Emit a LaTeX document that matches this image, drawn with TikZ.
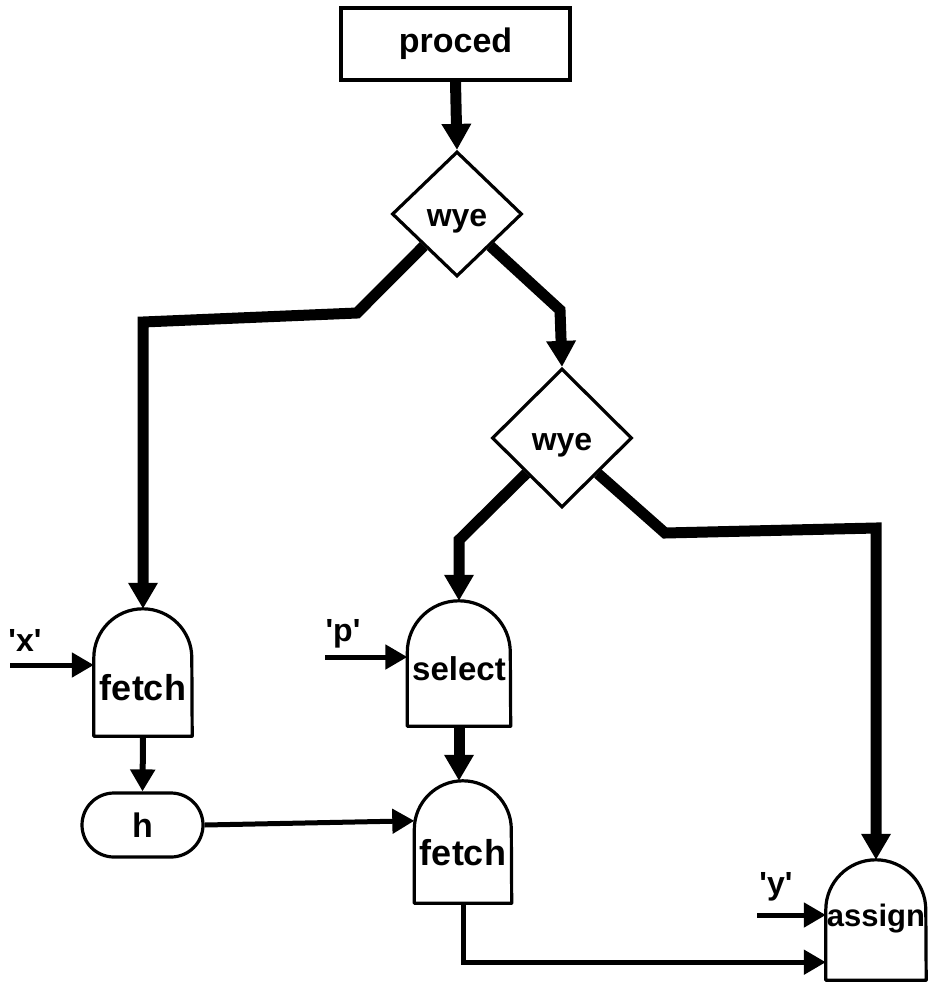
\documentclass[tikz,border=0pt]{standalone}
\usepackage{fontspec}
\setmainfont{Liberation Sans}
\newfontfamily\qf{Liberation Sans}
\usetikzlibrary{arrows.meta,shapes.geometric,shapes.misc,calc}
\newcommand\bulletoutline[2]{%
  \draw[outl] (#1.south west) -- ([yshift=-#2]#1.north west)
    arc[start angle=180,end angle=0,radius=#2] -- (#1.south east) -- cycle;}
\begin{document}
\begin{tikzpicture}[x=1pt,y=-1pt,
  font=\fontsize{31}{31}\selectfont\bfseries,
  outl/.style={line width=3.2pt, line join=round},
  flowA/.style={line width=11pt, -{Triangle[length=26pt,width=28pt]}},
  flowB/.style={line width=5pt, -{Triangle[length=22pt,width=24pt]}},
  wyebox/.style={diamond, draw, line width=3.2pt, inner sep=0pt,
    text height=24pt, text depth=0pt, font=\fontsize{32}{32}\selectfont\bfseries},
  bulletbox/.style={rectangle, draw=none, inner sep=0pt, anchor=base},
  lbl/.style={font=\fontsize{32}{32}\selectfont\bfseries\qf}]
\useasboundingbox (0,0) rectangle (928,986);

% nodes
\node[draw, rectangle, line width=3.2pt, minimum width=229pt, minimum height=72pt,
  font=\fontsize{34}{34}\selectfont\bfseries]
  (proc) at (455.5,44) {proced};
\node[wyebox, minimum width=130pt, minimum height=125pt] (w1) at (457,214) {wye};
\node[wyebox, minimum width=140pt, minimum height=139pt] (w2) at (562,438) {wye};

\node[bulletbox, minimum width=98pt, text height=91pt, text depth=36pt,
  font=\fontsize{36}{36}\selectfont\bfseries]
  (f1) at (143,700) {fetch};
\node[bulletbox, minimum width=103pt, text height=79pt, text depth=46pt,
  font=\fontsize{33}{33}\selectfont\bfseries]
  (sel) at (459,680) {select};
\node[bulletbox, minimum width=97pt, text height=84pt, text depth=38pt,
  font=\fontsize{36}{36}\selectfont\bfseries]
  (f2) at (463,865) {fetch};
\node[bulletbox, minimum width=100pt, text height=66pt, text depth=54pt]
  (asg) at (876,926) {assign};
\bulletoutline{f1}{49pt}
\bulletoutline{sel}{51.5pt}
\bulletoutline{f2}{48.5pt}
\bulletoutline{asg}{50pt}

\node[draw, rounded rectangle, line width=3.2pt, minimum width=121pt,
  minimum height=64pt, inner sep=0pt, font=\fontsize{34}{34}\selectfont\bfseries]
  (h) at (142.5,825) {h};

% labels
\node[lbl] (lx) at (25,640) {'x'};
\node[lbl] (lp) at (343,634) {'p'};
\node[lbl] (ly) at (776,887) {'y'};

% coordinates
\coordinate (b1) at (357,313);
\coordinate (b2) at (143,322);
\coordinate (b3) at (560,310);
\coordinate (b4) at (459,540);
\coordinate (b5) at (665,533);
\coordinate (b6) at (876,528);
\coordinate (xin) at (10,665);
\coordinate (pin) at (325,657);
\coordinate (yin) at (757,915);

% thick connectors
\draw[flowA] (proc.south) -- (w1.north);
\draw[flowA] (w1.south west) -- (b1) -- (b2) -- (f1.north);
\draw[flowA] (w1.south east) -- (b3) -- (w2.north);
\draw[flowA] (w2.south west) -- (b4) -- (sel.north);
\draw[flowA] (w2.south east) -- (b5) -- (b6) -- (asg.north);
\draw[flowA] (sel.south) -- (sel.south |- f2.north);

% thin connectors
\draw[flowB] (xin) -- (xin -| f1.west);
\draw[flowB] (pin) -- (pin -| sel.west);
\draw[flowB] (yin) -- (yin -| asg.west);
\draw[flowB, line width=6pt] (f1.south) -- (h.north);
\draw[flowB] (h.east) -- ($(f2.north west)+(0,40)$);
\draw[flowB] (f2.south) |- ($(asg.south west)+(0,-18)$);
\end{tikzpicture}
\end{document}
